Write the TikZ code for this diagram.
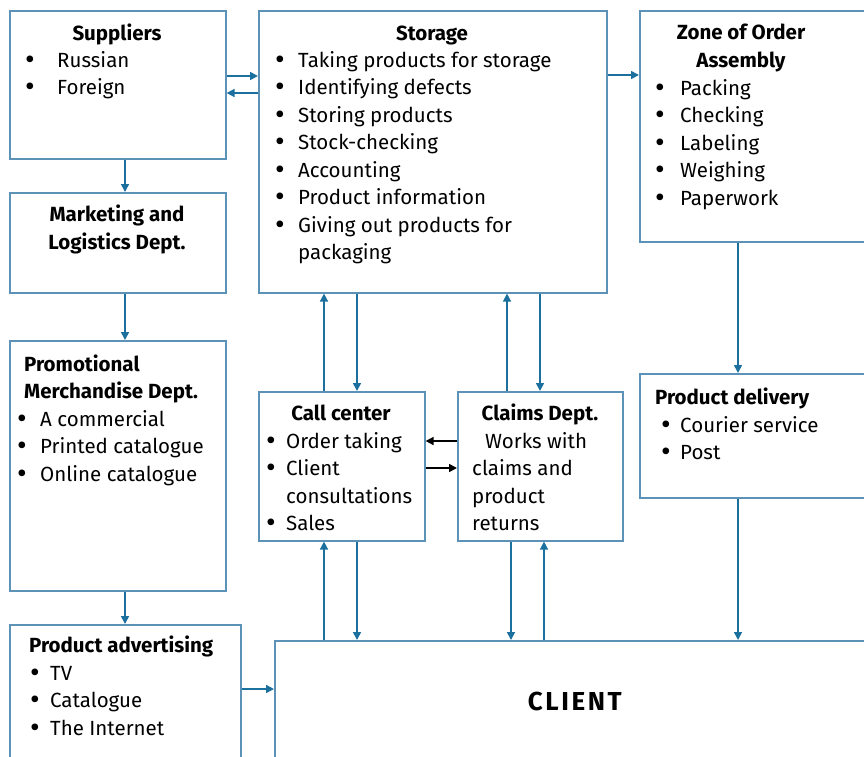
\documentclass[tikz,border=0pt]{standalone}
\usepackage{fontspec}
\setmainfont{Fira Sans}
\usetikzlibrary{arrows.meta}
\definecolor{boxc}{RGB}{92,146,184}
\definecolor{arrc}{RGB}{28,112,158}
\newcommand\bul[2][23]{\makebox[#1pt][l]{\raisebox{-0.1em}{\scalebox{1.45}{\textbullet}}}#2}
\begin{document}
\begin{tikzpicture}[x=1pt,y=1pt,
 box/.style={draw=boxc,line width=1.6pt,inner sep=0,anchor=north west},
 txt/.style={anchor=north west,inner sep=0,align=left,font=\fontsize{20.5}{27.5}\selectfont},
 ttl/.style={anchor=base,inner sep=0,align=center,font=\fontsize{20.5}{27.5}\selectfont\bfseries},
 ar/.style={draw=arrc,line width=1.6pt,-{Triangle[length=8pt,width=8pt]}},
 bar/.style={draw=black,line width=1.6pt,-{Triangle[length=8pt,width=8pt]}}]
\path[use as bounding box] (0,0) rectangle (864,-756);
% boxes
\node[box,minimum width=216,minimum height=148] (sup) at (9,-10) {};
\node[box,minimum width=216,minimum height=100] (mkt) at (9,-192) {};
\node[box,minimum width=216,minimum height=250] (promo) at (9,-340) {};
\node[box,minimum width=231,minimum height=136] (adv) at (9,-624) {};
\node[box,minimum width=348,minimum height=282] (sto) at (258,-10) {};
\node[box,minimum width=232,minimum height=231] (zone) at (639,-10) {};
\node[box,minimum width=232,minimum height=124] (del) at (639,-373) {};
\node[box,minimum width=166,minimum height=149] (call) at (258,-391) {};
\node[box,minimum width=165,minimum height=149] (claim) at (457,-391) {};
\node[box,minimum width=600,minimum height=122,font=\fontsize{26}{30}\selectfont\bfseries\addfontfeatures{LetterSpace=10}] (client) at (274,-640) {CLIENT};
% texts
\node[ttl] (tsup) at (117,-40) {Suppliers};
\node[txt] (lsup) at (25,-47.75) {\strut\bul[32]{Russian}\\\bul[32]{Foreign}};
\node[ttl] (tsto) at (432,-40) {Storage};
\node[txt] (lsto) at (275,-47.75) {\strut\bul{Taking products for storage}\\\bul{Identifying defects}\\\bul{Storing products}\\\bul{Stock-checking}\\\bul{Accounting}\\\bul{Product information}\\\bul{Giving out products for}\\\hspace*{23pt}packaging};
\node[ttl] (tzone) at (741,-67) {Zone of Order\\Assembly};
\node[txt] (lzone) at (655,-75.75) {\strut\bul[25]{Packing}\\\bul[25]{Checking}\\\bul[25]{Labeling}\\\bul[25]{Weighing}\\\bul[25]{Paperwork}};
\node[ttl] (tmkt) at (117,-249) {Marketing and\\Logistics Dept.};
\node[txt,font=\fontsize{20.5}{27.5}\selectfont\bfseries] (tpromo) at (24,-351.75) {\strut Promotional\\Merchandise Dept.};
\node[txt] (lpromo) at (17,-406.75) {\strut\bul{A commercial}\\\bul{Printed catalogue}\\\bul{Online catalogue}};
\node[txt,font=\fontsize{20.5}{27.5}\selectfont\bfseries] (tadv) at (29,-632.75) {\strut Product advertising};
\node[txt] (ladv) at (30,-660.75) {\strut\bul[20]{TV}\\\bul[20]{Catalogue}\\\bul[20]{The Internet}};
\node[ttl] (tcall) at (341,-420) {Call center};
\node[txt] (lcall) at (266,-428.75) {\strut\bul[20]{Order taking}\\\bul[20]{Client}\\\hspace*{20pt}consultations\\\bul[20]{Sales}};
\node[ttl] (tclaim) at (540,-420) {Claims Dept.};
\node[txt] (lclaim) at (472,-428.75) {\strut\hspace*{13pt}Works with\\claims and\\product\\returns};
\node[txt,font=\fontsize{20.5}{27.5}\selectfont\bfseries] (tdel) at (655,-384.75) {\strut Product delivery};
\node[txt] (ldel) at (661,-412.75) {\strut\bul[19]{Courier service}\\\bul[19]{Post}};
% connectors
\draw[ar] (sup.east |- 0,-76) -- (sto.west |- 0,-76);
\draw[ar] (sto.west |- 0,-93) -- (sup.east |- 0,-93);
\draw[ar] (sto.east |- 0,-75) -- (zone.west |- 0,-75);
\draw[ar] (125,0 |- sup.south) -- (125,0 |- mkt.north);
\draw[ar] (125,0 |- mkt.south) -- (125,0 |- promo.north);
\draw[ar] (125,0 |- promo.south) -- (125,0 |- adv.north);
\draw[ar] (adv.east |- 0,-689) -- (client.west |- 0,-689);
\draw[ar] (738,0 |- zone.south) -- (738,0 |- del.north);
\draw[ar] (738,0 |- del.south) -- (738,0 |- client.north);
\draw[ar] (324,0 |- call.north) -- (324,0 |- sto.south);
\draw[ar] (357,0 |- sto.south) -- (357,0 |- call.north);
\draw[ar] (507,0 |- claim.north) -- (507,0 |- sto.south);
\draw[ar] (540,0 |- sto.south) -- (540,0 |- claim.north);
\draw[ar] (324,0 |- client.north) -- (324,0 |- call.south);
\draw[ar] (357,0 |- call.south) -- (357,0 |- client.north);
\draw[ar] (511,0 |- claim.south) -- (511,0 |- client.north);
\draw[ar] (544,0 |- client.north) -- (544,0 |- claim.south);
\draw[bar] (claim.west |- 0,-441) -- (call.east |- 0,-441);
\draw[bar] (call.east |- 0,-468) -- (claim.west |- 0,-468);
\end{tikzpicture}
\end{document}
